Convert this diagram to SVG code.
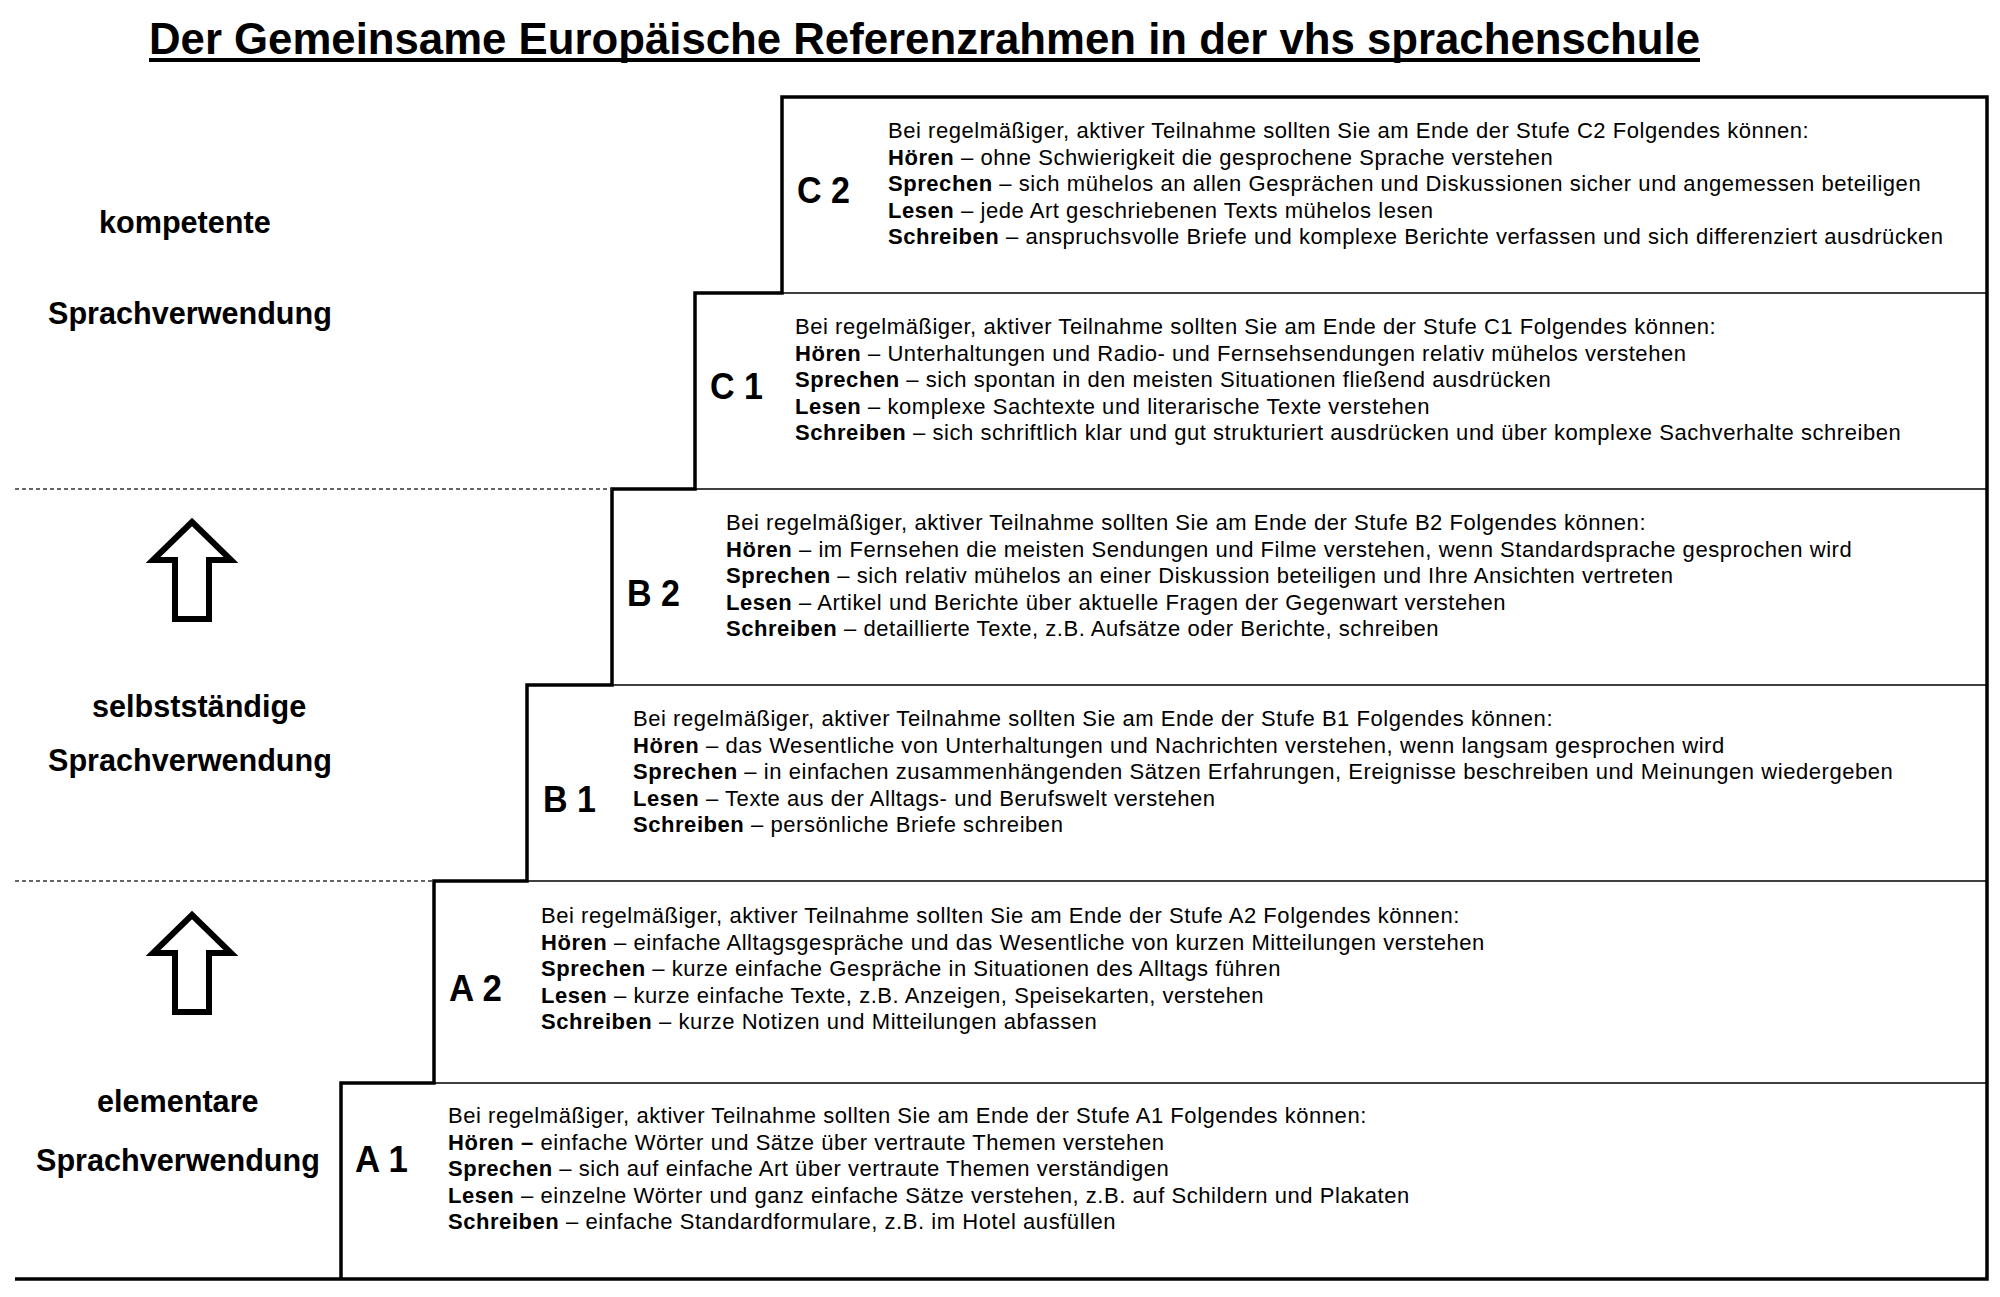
<svg xmlns="http://www.w3.org/2000/svg" width="2000" height="1297" viewBox="0 0 2000 1297">
<style>
.title{font-family:"Liberation Sans Narrow","Liberation Sans",Arial,sans-serif;font-weight:bold;font-size:44px;fill:#000}
.lvl{font-family:"Liberation Sans",Arial,sans-serif;font-weight:bold;font-size:37px;fill:#000}
.side{font-family:"Liberation Sans",Arial,sans-serif;font-weight:bold;font-size:30.6px;fill:#000}
.body{font-family:"Liberation Sans",Arial,sans-serif;font-size:22px;letter-spacing:0.55px;fill:#000}
.b{font-weight:bold}
.thick{fill:none;stroke:#000;stroke-width:3.5;stroke-linejoin:miter}
.thin{fill:none;stroke:#000;stroke-width:1.5}
.dash{fill:none;stroke:#333;stroke-width:1.5;stroke-dasharray:4 3}
.arrow{fill:#fff;stroke:#000;stroke-width:6;stroke-linejoin:miter}
</style>
<rect width="2000" height="1297" fill="#fff"/>
<g id="title">
<text class="title" x="149" y="54" textLength="1551" lengthAdjust="spacingAndGlyphs">Der Gemeinsame Europäische Referenzrahmen in der vhs sprachenschule</text>
<rect x="149" y="58" width="1551" height="4" fill="#000"/>
</g>
<g id="connectors">
<path class="thick" d="M15,1279 H1987 V97 H782 V293 H695 V489 H612 V685 H527 V881 H434 V1083 H341 V1279"/>
<path class="thin" d="M782,293 H1987 M695,489 H1987 M612,685 H1987 M527,881 H1987 M434,1083 H1987"/>
<path class="dash" d="M15,489 H612 M15,881 H434"/>
</g>
<g id="side-labels">
<text class="side" x="99" y="233">kompetente</text>
<text class="side" x="48" y="324">Sprachverwendung</text>
<text class="side" x="92" y="717">selbstständige</text>
<text class="side" x="48" y="771">Sprachverwendung</text>
<text class="side" x="97" y="1112">elementare</text>
<text class="side" x="36" y="1171">Sprachverwendung</text>
</g>
<g id="arrow1"><path class="arrow" d="M192,522 L231,560 L209,560 L209,619 L175,619 L175,560 L153,560 Z"/></g>
<g id="arrow2"><path class="arrow" d="M192,915 L231,953 L209,953 L209,1012 L175,1012 L175,953 L153,953 Z"/></g>
<g id="C2">
<text class="lvl" x="797" y="203" textLength="53" lengthAdjust="spacingAndGlyphs">C 2</text>
<text class="body" x="888" y="138">Bei regelmäßiger, aktiver Teilnahme sollten Sie am Ende der Stufe C2 Folgendes können:</text>
<text class="body" x="888" y="164.5"><tspan class="b">Hören</tspan> – ohne Schwierigkeit die gesprochene Sprache verstehen</text>
<text class="body" x="888" y="191"><tspan class="b">Sprechen</tspan> – sich mühelos an allen Gesprächen und Diskussionen sicher und angemessen beteiligen</text>
<text class="body" x="888" y="217.5"><tspan class="b">Lesen</tspan> – jede Art geschriebenen Texts mühelos lesen</text>
<text class="body" x="888" y="244"><tspan class="b">Schreiben</tspan> – anspruchsvolle Briefe und komplexe Berichte verfassen und sich differenziert ausdrücken</text>
</g>
<g id="C1">
<text class="lvl" x="710" y="399" textLength="53" lengthAdjust="spacingAndGlyphs">C 1</text>
<text class="body" x="795" y="334">Bei regelmäßiger, aktiver Teilnahme sollten Sie am Ende der Stufe C1 Folgendes können:</text>
<text class="body" x="795" y="360.5"><tspan class="b">Hören</tspan> – Unterhaltungen und Radio- und Fernsehsendungen relativ mühelos verstehen</text>
<text class="body" x="795" y="387"><tspan class="b">Sprechen</tspan> – sich spontan in den meisten Situationen fließend ausdrücken</text>
<text class="body" x="795" y="413.5"><tspan class="b">Lesen</tspan> – komplexe Sachtexte und literarische Texte verstehen</text>
<text class="body" x="795" y="440"><tspan class="b">Schreiben</tspan> – sich schriftlich klar und gut strukturiert ausdrücken und über komplexe Sachverhalte schreiben</text>
</g>
<g id="B2">
<text class="lvl" x="627" y="606" textLength="53" lengthAdjust="spacingAndGlyphs">B 2</text>
<text class="body" x="726" y="530">Bei regelmäßiger, aktiver Teilnahme sollten Sie am Ende der Stufe B2 Folgendes können:</text>
<text class="body" x="726" y="556.5"><tspan class="b">Hören</tspan> – im Fernsehen die meisten Sendungen und Filme verstehen, wenn Standardsprache gesprochen wird</text>
<text class="body" x="726" y="583"><tspan class="b">Sprechen</tspan> – sich relativ mühelos an einer Diskussion beteiligen und Ihre Ansichten vertreten</text>
<text class="body" x="726" y="609.5"><tspan class="b">Lesen</tspan> – Artikel und Berichte über aktuelle Fragen der Gegenwart verstehen</text>
<text class="body" x="726" y="636"><tspan class="b">Schreiben</tspan> – detaillierte Texte, z.B. Aufsätze oder Berichte, schreiben</text>
</g>
<g id="B1">
<text class="lvl" x="543" y="812" textLength="53" lengthAdjust="spacingAndGlyphs">B 1</text>
<text class="body" x="633" y="726">Bei regelmäßiger, aktiver Teilnahme sollten Sie am Ende der Stufe B1 Folgendes können:</text>
<text class="body" x="633" y="752.5"><tspan class="b">Hören</tspan> – das Wesentliche von Unterhaltungen und Nachrichten verstehen, wenn langsam gesprochen wird</text>
<text class="body" x="633" y="779"><tspan class="b">Sprechen</tspan> – in einfachen zusammenhängenden Sätzen Erfahrungen, Ereignisse beschreiben und Meinungen wiedergeben</text>
<text class="body" x="633" y="805.5"><tspan class="b">Lesen</tspan> – Texte aus der Alltags- und Berufswelt verstehen</text>
<text class="body" x="633" y="832"><tspan class="b">Schreiben</tspan> – persönliche Briefe schreiben</text>
</g>
<g id="A2">
<text class="lvl" x="449" y="1001" textLength="53" lengthAdjust="spacingAndGlyphs">A 2</text>
<text class="body" x="541" y="923">Bei regelmäßiger, aktiver Teilnahme sollten Sie am Ende der Stufe A2 Folgendes können:</text>
<text class="body" x="541" y="949.5"><tspan class="b">Hören</tspan> – einfache Alltagsgespräche und das Wesentliche von kurzen Mitteilungen verstehen</text>
<text class="body" x="541" y="976"><tspan class="b">Sprechen</tspan> – kurze einfache Gespräche in Situationen des Alltags führen</text>
<text class="body" x="541" y="1002.5"><tspan class="b">Lesen</tspan> – kurze einfache Texte, z.B. Anzeigen, Speisekarten, verstehen</text>
<text class="body" x="541" y="1029"><tspan class="b">Schreiben</tspan> – kurze Notizen und Mitteilungen abfassen</text>
</g>
<g id="A1">
<text class="lvl" x="355" y="1172" textLength="53" lengthAdjust="spacingAndGlyphs">A 1</text>
<text class="body" x="448" y="1123">Bei regelmäßiger, aktiver Teilnahme sollten Sie am Ende der Stufe A1 Folgendes können:</text>
<text class="body" x="448" y="1149.5"><tspan class="b">Hören –</tspan> einfache Wörter und Sätze über vertraute Themen verstehen</text>
<text class="body" x="448" y="1176"><tspan class="b">Sprechen</tspan> – sich auf einfache Art über vertraute Themen verständigen</text>
<text class="body" x="448" y="1202.5"><tspan class="b">Lesen</tspan> – einzelne Wörter und ganz einfache Sätze verstehen, z.B. auf Schildern und Plakaten</text>
<text class="body" x="448" y="1229"><tspan class="b">Schreiben</tspan> – einfache Standardformulare, z.B. im Hotel ausfüllen</text>
</g>
</svg>
